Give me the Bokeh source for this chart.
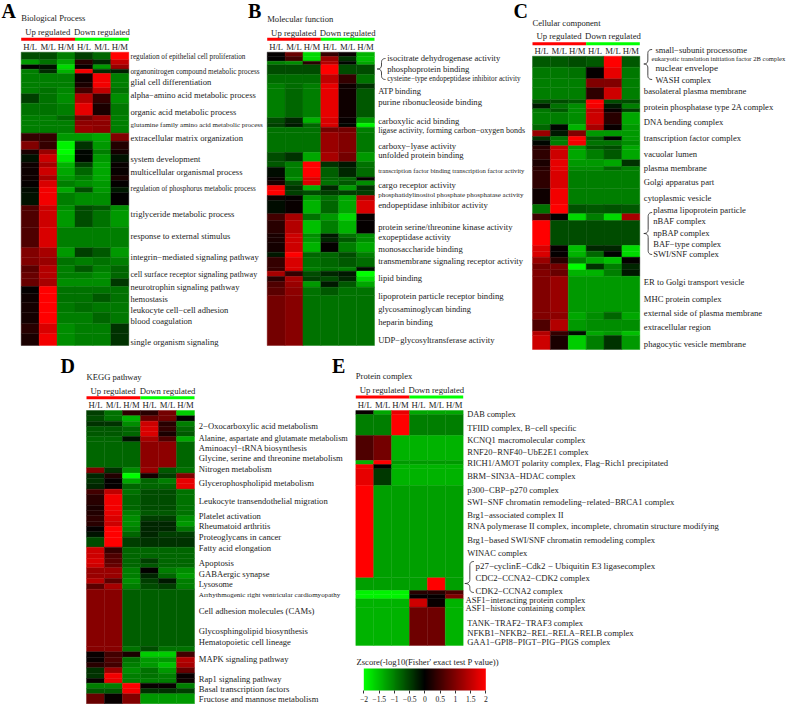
from bokeh.plotting import figure
from bokeh.models import ColumnDataSource, LinearColorMapper, Range1d, ColorBar, FixedTicker
from bokeh.transform import transform
from bokeh.core.properties import value
from bokeh.embed import file_html
from bokeh.resources import INLINE
import numpy as np

# ---------- data: z-scores (H/L M/L H/M H/L M/L H/M) ----------
columns = ["H/L", "M/L", "H/M", "H/L", "M/L", "H/M"]
cbar_ticks = [-2, -1.5, -1, -0.5, 0, 0.5, 1, 1.5, 2]

a_edges = [155,178,193,206,219,245,262,280,308,345,360,375,398,422,448,462,485,500,525,540,560,577,615,630,680,742,770,795,815,835,858,880,905,935,970,1000,1035]
a_z = [
 [-.6,-.6,-1,-.5,-.8,2],[-1.2,-.9,-1.3,.3,-.3,1.5],[0,-.15,-1.7,.05,-1.2,1.2],[-1,-.35,-1.4,1.9,-.35,-.25],
 [-1,-1,-1,.1,1.9,-1],[-1,-1,-1,.2,1.9,-1],[-1,-.9,-1.05,.5,1.5,-.9],[-.5,-.9,-1.1,1.4,.4,-1.1],
 [-.9,-.9,-1,1.8,.2,-.95],[-1,-1,-.8,.9,1.2,-1],[-1,-1,-1,1.1,1.1,-1],[-1,-1,-1,1.2,1.1,-1],
 [.4,.4,-1.2,-1.2,-1.3,1],[1,.4,-1.9,-.4,-1.2,.25],[.2,1.2,-2,-.05,-1,.15],[-.15,1.6,-1.8,-.05,-1.2,-.15],
 [.1,1.3,-1.4,-.5,-1.3,.05],[.1,1.6,-1.3,-.8,-1.3,.05],[.1,1.3,-1.2,-1,-1.3,.2],[.02,1.7,-1,-1.1,-1.2,.02],
 [-.1,1.9,-1.3,-.6,-1.2,-.2],[-.15,1.9,-1,-1.1,-1.1,0],[.6,1.6,-1.1,-.6,-.7,-1.1],[.6,1.6,-1.2,-.6,-.9,-1.2],
 [.6,1.7,-1,-1,-1,-1],[1,1.3,-1.2,-.5,-.7,-1.2],[1,1.2,-.9,-1,-.9,-1],[.7,1.4,-1,-.7,-1,-.8],
 [.8,1.4,-1,-1,-1.1,-.8],[.8,1.3,-1.1,-1.1,-1.1,-.45],[.02,2,-.9,-.9,-.9,-.9],[.1,2,-.9,-.9,-.7,-.9],
 [.15,2,-.95,-.85,-.95,-.95],[.15,2,-1,-1,-.8,-.95],[.3,1.7,-1.1,-1,-1,-.4],[.2,1.9,-1.1,-1,-1,-.4],
]
a_terms = ["regulation of epithelial cell proliferation","organonitrogen compound metabolic process","glial cell differentiation","alpha\u2212amino acid metabolic process","organic acid metabolic process","glutamine family amino acid metabolic process","extracellular matrix organization","system development","multicellular organismal process","regulation of phosphorus metabolic process","triglyceride metabolic process","response to external stimulus","integrin\u2212mediated signaling pathway","cell surface receptor signaling pathway","neurotrophin signaling pathway","hemostasis","leukocyte cell\u2212cell adhesion","blood coagulation","single organism signaling"]

b_edges = [155,168,182,193,222,250,265,352,368,380,395,456,484,500,530,541,555,570,585,600,640,660,700,712,725,755,770,800,812,828,843,860,885,1035]
b_z = [
 [.03,.8,-1.7,.4,.05,-1.4],[0,.5,-1.7,1.2,-.4,-1.5],[-1,-1.1,.3,1.4,-.05,-1.3],[-.6,-.6,-.6,2,-.6,-.6],
 [-.85,-.85,-.85,1.5,.4,-.9],[-1,-.85,-1,1.8,.1,-.4],[-1,-.8,-1,1.8,.1,-.7],[-.6,-.3,-1.4,1.7,.05,-1.2],
 [-.5,-.2,-.8,1.7,-.05,-1.9],[-.9,-.9,-.9,.9,.9,-1],[-.9,-.9,-.9,1.2,1,-.95],[-.6,-.4,-1.3,1.3,.9,-1.2],
 [-.7,-1,2,-.4,-.2,-.9],[-.1,-1,2,-.75,-.3,-.85],[.05,-1.1,1.7,-.8,-.8,.02],[.2,-.6,1.7,-.9,-.7,-1.1],
 [1.9,-.4,-1.4,-.3,-1.2,-.4],[2,-.5,-.6,-.5,-.5,-.5],[.1,.02,-1.2,-.9,-1.3,1.4],[-.1,.05,-1.4,-.8,-1.3,1.7],
 [.5,1.3,-.9,-1.2,-1.7,.05],[.3,1.4,-1.5,-1,-1.4,.02],[.2,1.6,-1.1,-.2,-.9,-1.1],[.2,1.6,-1.2,-.3,-.7,-1.1],
 [.15,1.6,-1.4,.02,-1,-1.3],[-.2,2,-.8,-.8,-.6,-1],[.4,1.7,-.9,-.8,-.7,-.85],[.4,1.7,-1,-.9,-1,-.1],
 [1.3,.4,-.6,-.3,-.2,-2],[.3,1.3,-.5,-.6,-.3,-1.7],[.6,1.2,-1.2,-.2,-.7,-1.3],[.7,1.1,-.9,-.7,-.9,-.9],
 [.9,1.05,-.9,-.9,-.9,-.9],
]
b_terms = ["isocitrate dehydrogenase activity","phosphoprotein binding","cysteine\u2212type endopeptidase inhibitor activity","ATP binding","purine ribonucleoside binding","carboxylic acid binding","ligase activity, forming carbon\u2212oxygen bonds","carboxy\u2212lyase activity","unfolded protein binding","transcription factor binding transcription factor activity","cargo receptor activity","phosphatidylinositol phosphate phosphatase activity","endopeptidase inhibitor activity","protein serine/threonine kinase activity","exopeptidase activity","monosaccharide binding","transmembrane signaling receptor activity","lipid binding","lipoprotein particle receptor binding","glycosaminoglycan binding","heparin binding","UDP\u2212glycosyltransferase activity"]

c_edges = [167,200,235,262,298,310,325,335,372,390,408,420,436,448,478,498,510,565,612,640,660,735,752,770,790,808,827,935,958,992,1005,1047]
c_z = [
 [-.7,-.7,-.6,-.7,2,-.7],[-.95,-.95,-.9,.02,1.8,-.95],[-1,-1,-1,1,1,-1],[-1,-1,-1,.35,1.6,-1],
 [-.6,-.6,-.7,2,-.6,-.6],[-.2,-.9,-1.1,1.9,-.2,-1],[-.95,-.7,-1.1,1.5,.05,-.5],[-1,-1,-1.1,1.6,.3,-1.3],
 [-.8,-.05,-1.4,1.3,.05,-1.2],[1.2,-.2,1,-1.2,-1.2,-1.2],[-.4,-.9,2,-.7,-.02,-1.2],[-.05,-1,1.9,-.9,-.9,-1.1],
 [.3,1.5,-1.2,-.7,-.6,-1.3],[.35,1.6,-1.3,-1,-.7,-1.3],[.2,1.8,-1.2,-1.2,-1.3,-.4],[.3,1.8,-1.1,-1.1,-.8,-1],
 [.35,1.7,-1,-1,-1,-1],[.1,1.9,-1,-1,-1,-1],[-.9,2,-.65,-.7,-.65,-.7],[.5,.02,-1.7,-1,-1.7,1.3],
 [2,-.6,-.6,-.6,-.6,-.6],[1.7,.04,-1.5,-.3,-.3,-1.7],[1.7,.02,-1.4,-.8,-.02,-1.7],[1.2,.3,-1,-1.3,-1.5,.02],
 [.9,.9,-2,-.4,-1,-.3],[1,.8,-1.4,-1.4,-1,-.2],[1,1.2,-1.2,-1.2,-1.2,-1.2],[1,1.1,-1.3,-1.1,-.8,-1.3],
 [.6,1.4,-1.2,-1.1,-1.1,-1.1],[1.4,.4,-.1,-1.3,-1.2,-1.5],[1.6,.2,-1.6,-1,-.4,-1.2],
]
c_terms = ["small\u2212subunit processome","eukaryotic translation initiation factor 2B complex","nuclear envelope","WASH complex","basolateral plasma membrane","protein phosphatase type 2A complex","DNA bending complex","transcription factor complex","vacuolar lumen","plasma membrane","Golgi apparatus part","cytoplasmic vesicle","plasma lipoprotein particle","nBAF complex","npBAP complex","BAF\u2212type complex","SWI/SNF complex","ER to Golgi transport vesicle","MHC protein complex","external side of plasma membrane","extracellular region","phagocytic vesicle membrane"]

d_edges = [180,196,212,228,243,258,274,352,368,384,400,416,432,464,480,496,512,528,544,560,590,608,624,640,652,668,684,700,716,888,904,920,936,952,968,984,998,1014,1030,1060]
d_z = [
 [-.5,-.9,.35,.3,.9,-1.6],[-.6,-.9,-1.4,.8,.9,.02],[-.4,-.4,-1.1,1.6,.3,-1],[-.7,-.7,-.8,1.7,.4,-.8],
 [-.7,-.7,-.8,1.7,.2,-.7],[-.8,-.8,-.15,1.3,.6,-1.3],[-.8,-.8,-.8,1.1,1.1,-.8],[1,-.4,-1.1,1.2,-.7,-.9],
 [-.3,.25,-2,.15,-.5,1],[-.4,.02,-1.3,-.8,-1,1.8],[-.3,.02,-.8,-.8,-.8,1.8],[.5,1.5,-.9,-.6,-.6,-.9],
 [.3,1.9,-.8,-.6,-.6,-.9],[.2,1.9,-.8,-.6,-.6,-.9],[.25,1.8,-1,-.7,-.7,-.9],[.35,1.7,-1.1,-.5,-.5,-1.1],
 [.3,1.6,-1.1,-.3,-.3,-1.2],[.02,2,-1,-.3,-.3,-.9],[-.15,2,-.8,-.3,-.5,-.5],[-.6,2,-.5,-.4,-.4,-.4],
 [1.6,.4,-.8,-.8,-.8,-.8],[1.6,.6,-.8,-.8,-.8,-.8],[1.7,.7,-.8,-.5,-.8,-.8],[1.6,.8,-.8,-.7,-.8,-.8],
 [1.2,1.2,-1,.02,-1,-1.1],[1.2,1.2,-1,-.3,-.8,-1.2],[1.4,.7,-1.1,-.5,-.2,-1],[.7,1.3,-1,-.6,-.5,-1],
 [1.05,1.05,-.75,-.75,-.75,-.75],[1.05,1.05,-.9,-.6,-.9,-.9],[.05,.5,.2,-1.6,-1.6,.5],[.05,.6,-.9,-1.2,-1.2,1.4],
 [.3,.5,-1,-1.2,-1.5,1.3],[-.4,1.2,-1.1,-.9,-1.2,.8],[-.4,1.9,-1,-.9,-1,.05],[.05,1.8,-1,-1,-1,.1],
 [-1,-1,2,.05,.05,-1],[-.7,-.7,1.9,-.4,-.4,-.5],[.8,.05,1,-1.2,-1.2,-1.2],
]
d_terms = ["2\u2212Oxocarboxylic acid metabolism","Alanine, aspartate and glutamate metabolism","Aminoacyl\u2212tRNA biosynthesis","Glycine, serine and threonine metabolism","Nitrogen metabolism","Glycerophospholipid metabolism","Leukocyte transendothelial migration","Platelet activation","Rheumatoid arthritis","Proteoglycans in cancer","Fatty acid elongation","Apoptosis","GABAergic synapse","Lysosome","Arrhythmogenic right ventricular cardiomyopathy","Cell adhesion molecules (CAMs)","Glycosphingolipid biosynthesis","Hematopoietic cell lineage","MAPK signaling pathway","Rap1 signaling pathway","Basal transcription factors","Fructose and mannose metabolism"]

e_edges = [180,192,255,330,342,355,405,682,720,732,745,770,885]
e_z = [
 [.05,-1.3,1.8,-1.3,-1.3,-1.3],[-1,-1,2,-1,-1,-1],[.6,.9,-1.4,-1.4,-1.4,-1.4],[-1.4,2,-1.2,-1.2,-1.2,-1.2],
 [1.9,.02,-1.4,-1.4,-1.4,-1.4],[1.8,-.45,-1.4,-1.4,-1.4,-1.4],[2,-1.25,-1.25,-1.25,-1.25,-1.25],[-1.25,-1.25,-1.25,-1.25,2,-1.25],
 [-1.9,-1.9,-1.9,.3,.3,.6],[-1.9,-1.9,-1.9,.02,.02,1],[-1.4,-1.4,-1.4,1.6,.05,-1.4],[-1.4,-1.4,-1.4,.85,.85,-1.4],
]
e_terms = ["DAB complex","TFIID complex, B\u2212cell specific","KCNQ1 macromolecular complex","RNF20\u2212RNF40\u2212UbE2E1 complex","RICH1/AMOT polarity complex, Flag\u2212Rich1 precipitated","BRM\u2212SIN3A\u2212HDAC complex","p300\u2212CBP\u2212p270 complex","SWI\u2212SNF chromatin remodeling\u2212related\u2212BRCA1 complex","Brg1\u2212associated complex II","RNA polymerase II complex, incomplete, chromatin structure modifying","Brg1\u2212based SWI/SNF chromatin remodeling complex","WINAC complex","p27\u2212cyclinE\u2212Cdk2 \u2212 Ubiquitin E3 ligasecomplex","CDC2\u2212CCNA2\u2212CDK2 complex","CDK2\u2212CCNA2 complex","ASF1\u2212interacting protein complex","ASF1\u2212histone containing complex","TANK\u2212TRAF2\u2212TRAF3 complex","NFKB1\u2212NFKB2\u2212REL\u2212RELA\u2212RELB complex","GAA1\u2212GPI8\u2212PIGT\u2212PIG\u2212PIGS complex"]

# ---------- layout: label y / left / right in 1/3-pixel units relative to each panel's origin ----------
a_lay = dict(y=[168,214,245,284,335,373,411,475,514,566,641,705,770,823,858,895,927,960,1023],
             x=[390]*19,
             r=[735,778,633,767,708,787,728,600,727,766,702,690,775,771,717,502,684,575,655])
b_lay = dict(y=[171,204,235,272,305,360,389,435,464,509,554,583,614,680,708,745,782,831,886,927,965,1017],
             x=[425,425,425]+[398]*19,
             r=[765,672,825,530,710,642,840,632,655,838,632,835,727,802,616,652,833,530,775,657,562,747])
c_lay = dict(y=[147,175,203,237,270,320,364,412,459,501,544,593,629,662,696,729,761,843,894,936,978,1029],
             x=[435,423,435,435]+[400]*8+[428]*5+[400]*5,
             r=[710,825,637,604,708,790,640,692,560,589,612,603,707,586,598,632,625,702,633,755,601,707])
d_lay = dict(y=[225,263,292,322,356,397,450,496,527,559,591,638,669,701,732,781,842,874,924,985,1016,1046],
             x=[445]*22,
             r=[803,892,771,877,664,791,832,631,660,693,662,550,658,522,870,792,773,722,714,693,717,804])
e_lay = dict(y=[191,231,269,304,336,376,418,455,493,526,569,606,645,683,720,748,771,816,846,873],
             x=[380]*12+[405]*3+[375]*2+[380]*3,
             r=[526,708,735,745,984,705,655,1002,670,1137,945,560,945,748,667,735,735,730,880,810])

TIMES = dict(zip("abcdefghijklmnopqrstuvwxyz", [.444,.5,.444,.5,.444,.333,.5,.5,.278,.278,.5,.278,.778,.5,.5,.5,.5,.333,.389,.278,.5,.5,.722,.5,.5,.444]))
TIMES.update(dict(zip("ABCDEFGHIJKLMNOPQRSTUVWXYZ", [.722,.667,.667,.722,.611,.556,.722,.722,.333,.389,.722,.611,.889,.722,.722,.556,.722,.667,.556,.611,.722,.722,.944,.722,.722,.611])))
TIMES.update({" ": .25, ",": .25, ".": .25, "\u2212": .564, "-": .333, "/": .278, "(": .333, ")": .333, "'": .18})


def fit_size(text, width_px):
    em = sum(TIMES.get(ch, .5) for ch in text)
    s = width_px / em
    if len(text) < 30:
        s = max(s, 8.4)
    return min(s, 9.2)


X0, X1, Y0, Y1 = 0, 787, 0, 704
p = figure(width=X1 - X0, height=Y1 - Y0, x_range=Range1d(X0, X1), y_range=Range1d(Y1, Y0),
           x_axis_type=None, y_axis_type=None, toolbar_location=None, output_backend="svg",
           min_border=0, outline_line_color=None, background_fill_color="white", margin=0)

stops = []
for i in range(128):
    g = int(round(255 * (1 - i / 127)))
    stops.append("#00%02x00" % g)
for i in range(1, 129):
    r = int(round(255 * i / 128))
    stops.append("#%02x0000" % r)
mapper = LinearColorMapper(palette=stops, low=-2, high=2)

SERIF = value("Liberation Serif")
TEXT = "#222222"


def put_text(x, y, t, size, yname="default", xname="default", align="left", style="normal", color=TEXT):
    src = ColumnDataSource(dict(x=x, y=y, t=t, s=["%.2fpx" % v for v in size]))
    p.text("x", "y", text="t", source=src, x_range_name=xname, y_range_name=yname,
           text_font=SERIF, text_font_size="s", text_align=align, text_baseline="middle",
           text_font_style=style, text_color=color)


def panel(name, ox, oy, left, right, edges, z, terms, lay, title, title_x, title_zy, head_zy, bar_zy, col_zy, letter, letter_x, letter_zy):
    cw = (right - left) / 6
    xn, yn = name + "x", name + "y"
    p.extra_x_ranges[xn] = Range1d((X0 - left) / cw, (X1 - left) / cw)
    p.extra_y_ranges[yn] = Range1d((Y1 - oy) * 3, (Y0 - oy) * 3)
    arr = np.array(z, dtype=float)
    e = np.array(edges, dtype=float)
    nr, nc = arr.shape
    cols = np.tile(np.arange(nc), nr)
    rows = np.repeat(np.arange(nr), nc)
    src = ColumnDataSource(dict(l=cols, r=cols + 1, t=e[rows], b=e[rows + 1], z=arr.ravel()))
    fill = transform("z", mapper)
    p.quad(left="l", right="r", top="t", bottom="b", source=src, x_range_name=xn, y_range_name=yn,
           fill_color=fill, line_color=fill, line_width=0.4)
    bars = ColumnDataSource(dict(l=[0, 3], r=[3, 6], t=[bar_zy, bar_zy], b=[bar_zy + 9, bar_zy + 9], c=["#ff0000", "#00ff00"]))
    p.quad(left="l", right="r", top="t", bottom="b", fill_color="c", line_color=None, source=bars, x_range_name=xn, y_range_name=yn)
    put_text([1.48, 4.5], [head_zy] * 2, ["Up regulated", "Down regulated"], [8.7] * 2, yname=yn, xname=xn, align="center")
    put_text([i + 0.5 for i in range(6)], [col_zy] * 6, columns, [8.7] * 6, yname=yn, xname=xn, align="center")
    put_text([title_x], [title_zy], [title], [8.6], yname=yn)
    put_text([letter_x], [letter_zy], [letter], [20.0], yname=yn, style="bold", color="#000000")
    sizes = [fit_size(t, (r - x) / 3) for t, r, x in zip(terms, lay["r"], lay["x"])]
    put_text([ox + v / 3 for v in lay["x"]], lay["y"], terms, sizes, yname=yn)


panel("A", 0, 0, 20.7, 128.3, a_edges, a_z, a_terms, a_lay, "Biological Process", 20.7, 53, 95, 112, 138, "A", 1, 31)
panel("B", 245, 0, 266.7, 374, b_edges, b_z, b_terms, b_lay, "Molecular  function", 266.7, 55, 96, 112, 140, "B", 247.5, 31)
panel("C", 510, 0, 532, 639.3, c_edges, c_z, c_terms, c_lay, "Cellular component", 532, 67, 107, 125, 152, "C", 513, 31)
panel("D", 50, 350, 86, 194, d_edges, d_z, d_terms, d_lay, "KEGG pathway", 86, 78, 120, 137, 163, "D", 60, 47)
panel("E", 340, 350, 355.3, 462.7, e_edges, e_z, e_terms, e_lay, "Protein complex", 355.3, 76, 117, 135, 162, "E", 331.5, 47)


def brace(stem, top, bot, tip_x, tip_y, end):
    t = np.linspace(0, 1, 8)
    r = 4.0

    def q(p0, p1, p2):
        return [((1 - u) ** 2 * p0[0] + 2 * u * (1 - u) * p1[0] + u ** 2 * p2[0],
                 (1 - u) ** 2 * p0[1] + 2 * u * (1 - u) * p1[1] + u ** 2 * p2[1]) for u in t]
    pts = (q((end, top), (stem, top), (stem, top + r)) +
           q((stem, tip_y - r), (stem, tip_y), (tip_x, tip_y)) +
           q((tip_x, tip_y), (stem, tip_y), (stem, tip_y + r)) +
           q((stem, bot - r), (stem, bot), (end, bot)))
    p.line([a for a, _ in pts], [b for _, b in pts], line_color="#333333", line_width=0.9)


brace(245 + 408 / 3, 58, 79, 245 + 395 / 3, 68.5, 245 + 420 / 3)
brace(510 + 412 / 3, 49, 79, 510 + 400 / 3, 63.5, 510 + 425 / 3)
brace(510 + 413 / 3, 212, 254, 510 + 400 / 3, 233, 510 + 425 / 3)
brace(340 + 388 / 3, 350 + 211, 350 + 242, 340 + 373 / 3, 350 + 233, 340 + 400 / 3)

# colour scale
title_txt = "Zscore(-log10(Fisher' exact test P value))"
put_text([356], [661.7], [title_txt], [8.6])
cb = ColorBar(color_mapper=mapper, ticker=FixedTicker(ticks=cbar_ticks), major_label_overrides={v: " " for v in cbar_ticks},
              location=(363.3 - X0, 7), width=122, height=22, orientation="horizontal", padding=0, margin=0,
              background_fill_color=None, bar_line_color=None, major_tick_line_color="#333333",
              major_tick_in=0, major_tick_out=3, major_label_text_font_size="1px", label_standoff=0)
p.add_layout(cb)
p.extra_x_ranges["cb"] = Range1d(-2 + (X0 - 363.5) * 4 / 122, -2 + (X1 - 363.5) * 4 / 122)
put_text(cbar_ticks, [698.6] * len(cbar_ticks), [("%g" % v).replace("-", "\u2212") for v in cbar_ticks],
         [7.6] * len(cbar_ticks), xname="cb", align="center")

open("out.html", "w").write(file_html(p, INLINE))
